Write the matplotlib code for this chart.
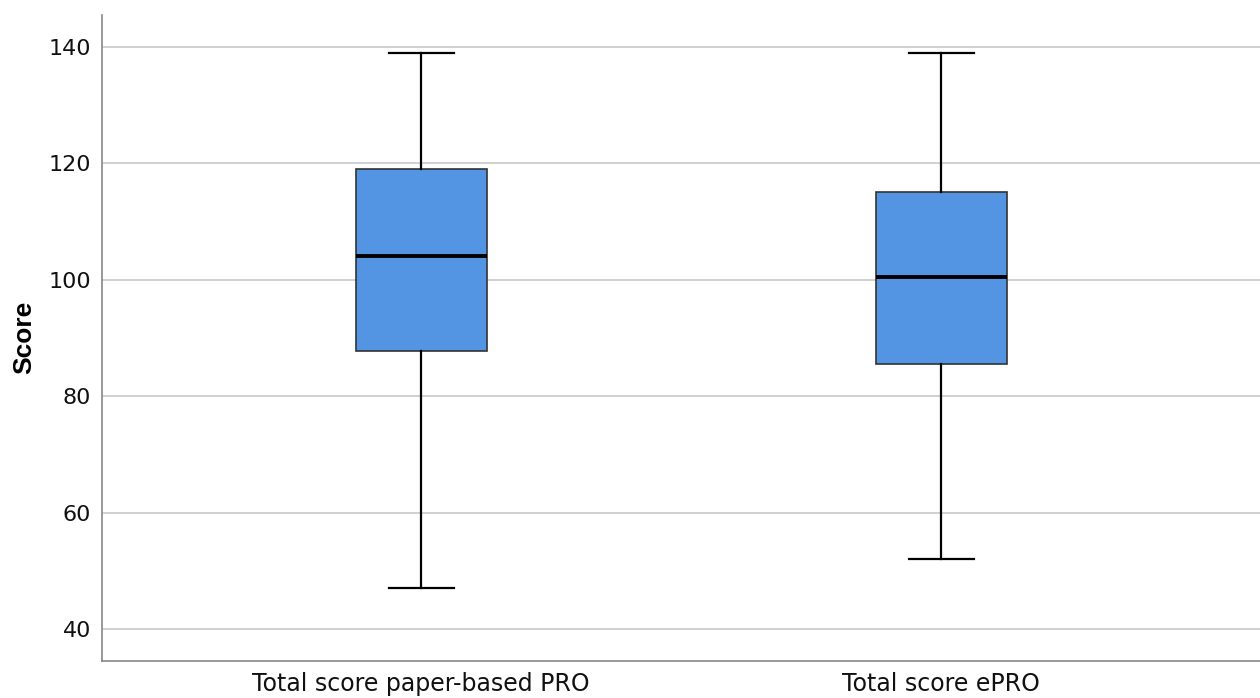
import matplotlib.pyplot as plt

# five-number summaries
labels = ['Total score paper-based PRO', 'Total score ePRO']
whislo = [47, 52]
q1 = [87.8, 85.5]
med = [104, 100.5]
q3 = [119, 115]
whishi = [139, 139]

stats = []
for i in range(len(labels)):
    stats.append({'label': labels[i], 'whislo': whislo[i], 'q1': q1[i],
                  'med': med[i], 'q3': q3[i], 'whishi': whishi[i], 'fliers': []})

fig = plt.figure(figsize=(12.6, 6.98), dpi=100)
ax = fig.add_axes([0.081, 0.053, 0.919, 0.926])

ax.bxp(stats, positions=[1, 2], widths=0.252, patch_artist=True, showfliers=False,
       boxprops=dict(facecolor='#5394E3', edgecolor='#333333', linewidth=1.2),
       medianprops=dict(color='black', linewidth=2.8),
       whiskerprops=dict(color='black', linewidth=1.6),
       capprops=dict(color='black', linewidth=1.6),
       capwidths=0.125, zorder=3)

ax.set_xlim(0.3865, 2.613)
ax.set_ylim(34.5, 145.5)
ax.set_yticks([40, 60, 80, 100, 120, 140])
ax.yaxis.grid(True, color='#C8C8C8', linewidth=1.2, zorder=0)
ax.set_axisbelow(True)

for s in ['top', 'right']:
    ax.spines[s].set_visible(False)
for s in ['left', 'bottom']:
    ax.spines[s].set_color('#888888')
    ax.spines[s].set_linewidth(1.2)

ax.tick_params(axis='both', length=0, colors='#111111')
ax.tick_params(axis='y', pad=8, labelsize=16)
ax.tick_params(axis='x', pad=8, labelsize=17)
ax.set_ylabel('Score', fontsize=19, fontweight='bold', family='Liberation Sans', labelpad=9)

fig.savefig('out.png', dpi=100)
